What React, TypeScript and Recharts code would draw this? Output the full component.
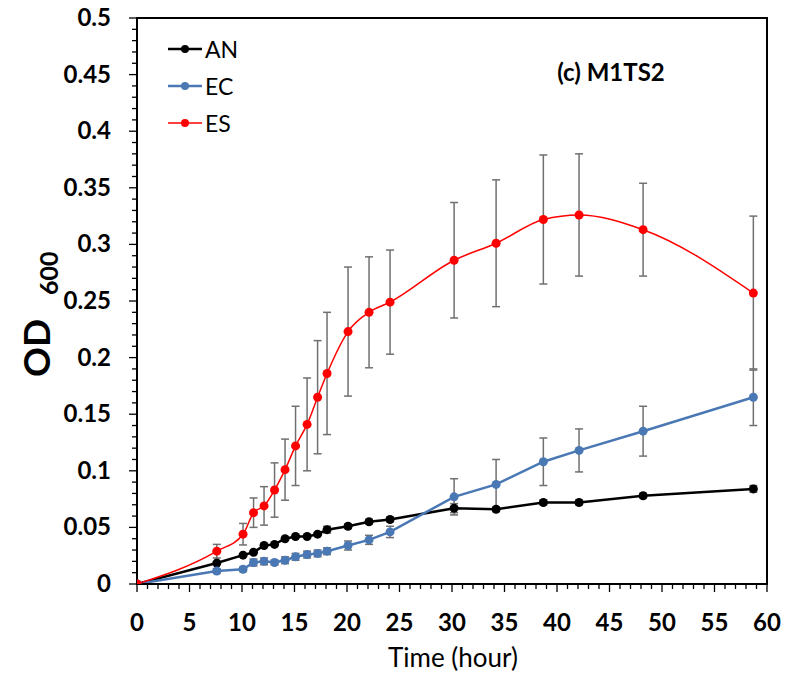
import React from 'react';
import { LineChart, Line, XAxis, YAxis, ErrorBar, ReferenceArea } from 'recharts';

const times = [0, 7.6, 10.1, 11.1, 12.1, 13.1, 14.1, 15.1, 16.2, 17.2, 18.1, 20.1, 22.1, 24.1, 30.2, 34.2, 38.7, 42.1, 48.2, 58.7];
const anValues = [0, 0.0185, 0.0255, 0.028, 0.034, 0.035, 0.04, 0.042, 0.042, 0.044, 0.048, 0.051, 0.055, 0.057, 0.067, 0.066, 0.072, 0.072, 0.078, 0.084];
const anErrors = [0, 0.001, 0.001, 0.001, 0.001, 0.001, 0.001, 0.001, 0.001, 0.001, 0.003, 0.002, 0.002, 0.002, 0.004, 0.002, 0.002, 0.002, 0.002, 0.003];
const ecValues = [0, 0.0115, 0.013, 0.019, 0.02, 0.019, 0.021, 0.024, 0.026, 0.027, 0.029, 0.034, 0.039, 0.046, 0.077, 0.088, 0.108, 0.118, 0.135, 0.165];
const ecErrors = [0, 0.002, 0.002, 0.003, 0.003, 0.002, 0.003, 0.003, 0.003, 0.003, 0.003, 0.004, 0.004, 0.005, 0.016, 0.022, 0.021, 0.019, 0.022, 0.025];
const esValues = [0, 0.029, 0.044, 0.063, 0.069, 0.083, 0.101, 0.122, 0.141, 0.165, 0.186, 0.223, 0.24, 0.249, 0.286, 0.301, 0.322, 0.326, 0.313, 0.257];
const esErrors = [0, 0.006, 0.0095, 0.013, 0.017, 0.024, 0.027, 0.035, 0.041, 0.05, 0.054, 0.057, 0.049, 0.046, 0.051, 0.056, 0.057, 0.054, 0.041, 0.068];

const seriesNames = ['AN', 'EC', 'ES'];
const seriesColors = ['#000000', '#4a78b4', '#ff0000'];
const xTicks = Array.from({ length: 61 }, (_, i) => i);
const yTicks = Array.from({ length: 51 }, (_, i) => i / 100);
const titleText = '(c) M1TS2';
const xTitle = 'Time (hour)';

const rows = times.map((t, i) => ({
  t,
  an: anValues[i],
  anErr: anErrors[i],
  ec: ecValues[i],
  ecErr: ecErrors[i],
  es: esValues[i],
  esErr: esErrors[i],
}));

const FONT = 'Lato, "Open Sans", sans-serif';

const XTick = (props: any) => {
  const { x, y, payload } = props;
  const v = payload.value;
  const major = Math.round(v) % 5 === 0;
  return (
    <g>
      <line x1={x} x2={x} y1={y} y2={y + (major ? 8 : 5)} stroke="#000" strokeWidth={1.3} />
      {major && (
        <text x={x} y={y + 47} textAnchor="middle" fontFamily={FONT} fontWeight={700} fontSize={24} fill="#000">
          {v}
        </text>
      )}
    </g>
  );
};

const YTick = (props: any) => {
  const { x, y, payload } = props;
  const v = payload.value;
  const k = Math.round(v * 100);
  const major = k % 5 === 0;
  return (
    <g>
      <line x1={x} x2={x - (major ? 8 : 5)} y1={y} y2={y} stroke="#000" strokeWidth={1.3} />
      {major && (
        <text x={x - 26} y={y + 8} textAnchor="end" fontFamily={FONT} fontWeight={700} fontSize={24} fill="#000">
          {String(k / 100)}
        </text>
      )}
    </g>
  );
};

const LegendBox = () => (
  <div style={{ position: 'absolute', left: 167, top: 30, fontFamily: FONT, fontSize: 23, color: '#000' }}>
    {seriesNames.map((n, i) => (
      <div key={n} style={{ display: 'flex', alignItems: 'center', height: 37 }}>
        <svg width={36} height={12} style={{ display: 'block' }}>
          <line x1={1} x2={35} y1={6} y2={6} stroke={seriesColors[i]} strokeWidth={i === 2 ? 1.5 : 2.5} />
          <circle cx={18} cy={6} r={4} fill={seriesColors[i]} />
        </svg>
        <span style={{ marginLeft: 2, lineHeight: '22px' }}>{n}</span>
      </div>
    ))}
  </div>
);

const YLabel = () => (
  <text transform="translate(50, 377) rotate(-90)" fontFamily={FONT} fontWeight={700} fill="#000">
    <tspan fontSize={37}>OD</tspan>
    <tspan fontSize={25} dx={24} dy={8}>600</tspan>
  </text>
);

const TitleLabel = () => (
  <text x={611} y={81} textAnchor="middle" fontFamily={FONT} fontWeight={700} fontSize={24} fill="#000">
    {titleText}
  </text>
);

const XLabel = () => (
  <text x={453} y={667} textAnchor="middle" fontFamily={FONT} fontSize={26} fill="#000">
    {xTitle}
  </text>
);

export default function App() {
  return (
    <div style={{ position: 'absolute', left: 0, top: 0, width: 788, height: 673, background: '#fff' }}>
      <LineChart width={788} height={673} data={rows} margin={{ top: 18, right: 21, left: 0, bottom: 0 }}>
        <XAxis
          dataKey="t"
          type="number"
          domain={[0, 60]}
          ticks={xTicks}
          interval={0}
          tick={<XTick />}
          tickLine={false}
          tickSize={0}
          tickMargin={0}
          height={89}
          axisLine={{ stroke: '#000', strokeWidth: 2 }}
          allowDataOverflow
          label={{ content: <XLabel /> }}
        />
        <YAxis
          type="number"
          domain={[0, 0.5]}
          ticks={yTicks}
          interval={0}
          tick={<YTick />}
          tickLine={false}
          tickSize={0}
          tickMargin={0}
          width={137}
          axisLine={{ stroke: '#000', strokeWidth: 2 }}
          allowDataOverflow
          label={{ content: <YLabel /> }}
        />
        <ReferenceArea x1={0} x2={60} y1={0} y2={0.5} fill="none" stroke="#000" strokeWidth={2} label={{ content: <TitleLabel /> }} />
        <Line
          type="linear"
          dataKey="an"
          name="AN"
          stroke={seriesColors[0]}
          strokeWidth={2.5}
          dot={{ r: 4.5, fill: seriesColors[0], stroke: seriesColors[0], strokeWidth: 0 }}
          isAnimationActive={false}
        >
          <ErrorBar dataKey="anErr" direction="y" width={4} stroke="#707070" strokeWidth={1.5} />
        </Line>
        <Line
          type="linear"
          dataKey="ec"
          name="EC"
          stroke={seriesColors[1]}
          strokeWidth={2.5}
          dot={{ r: 4.5, fill: seriesColors[1], stroke: seriesColors[1], strokeWidth: 0 }}
          isAnimationActive={false}
        >
          <ErrorBar dataKey="ecErr" direction="y" width={4} stroke="#707070" strokeWidth={1.5} />
        </Line>
        <Line
          type="monotone"
          dataKey="es"
          name="ES"
          stroke={seriesColors[2]}
          strokeWidth={1.5}
          dot={{ r: 4.5, fill: seriesColors[2], stroke: seriesColors[2], strokeWidth: 0 }}
          isAnimationActive={false}
        >
          <ErrorBar dataKey="esErr" direction="y" width={4} stroke="#707070" strokeWidth={1.5} />
        </Line>
      </LineChart>
      <LegendBox />
    </div>
  );
}
